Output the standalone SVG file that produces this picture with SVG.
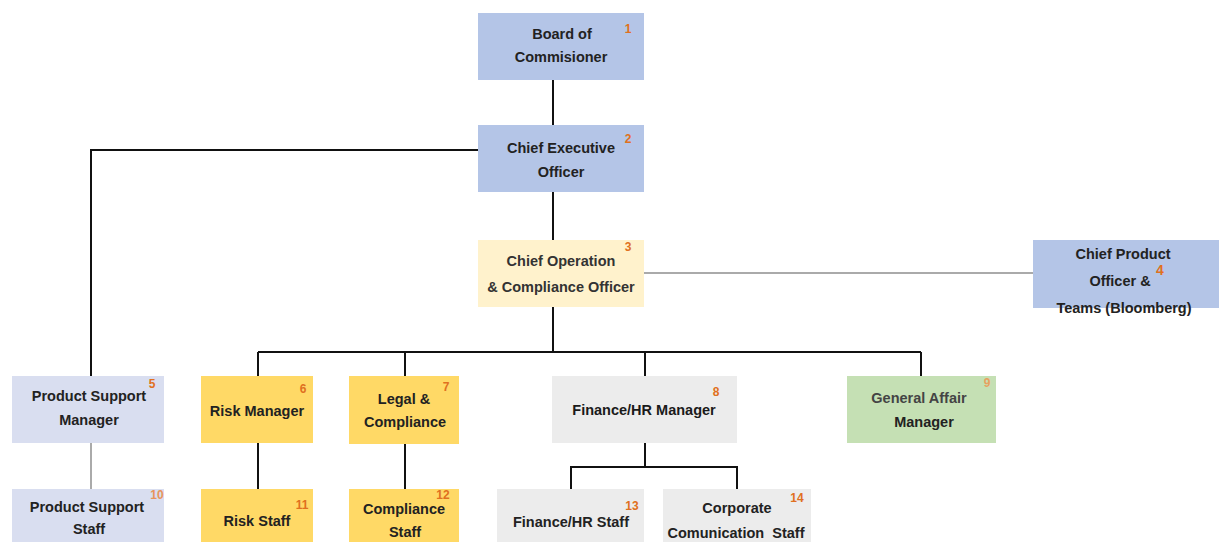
<svg xmlns="http://www.w3.org/2000/svg" width="1222" height="542" viewBox="0 0 1222 542">
<style>
.t{font-family:"Liberation Sans",Arial,sans-serif;font-size:14.5px;font-weight:bold;fill:#222;text-anchor:middle}
.n{font-family:"Liberation Sans",Arial,sans-serif;font-size:12px;font-weight:bold;fill:#e07020;text-anchor:middle}
.c{fill:none;stroke:#111;stroke-width:2}
.g{fill:none;stroke:#aaa;stroke-width:2}
</style>
<rect width="1222" height="542" fill="#fff"/>
<g id="connectors">
<path class="c" d="M553 80V125"/>
<path class="c" d="M553 192V240"/>
<path class="c" d="M478 150H91V376"/>
<path class="g" d="M644 273H1033"/>
<path class="c" d="M553 307V352M258 352H921M258 352V376M405 352V376M645 352V376M921 352V376"/>
<path class="g" d="M91 443V489"/>
<path class="c" d="M258 443V489M405 443V489"/>
<path class="c" d="M645 443V467M571 489V467H737V489"/>
</g>
<g id="n1"><rect x="478" y="13" width="166" height="67" fill="#b4c5e7"/><text class="t" x="562" y="39">Board of</text><text class="t" x="561" y="62">Commisioner</text><text class="n" x="628" y="33">1</text></g>
<g id="n2"><rect x="478" y="125" width="166" height="67" fill="#b4c5e7"/><text class="t" x="561" y="153">Chief Executive</text><text class="t" x="561" y="177">Officer</text><text class="n" x="628" y="143">2</text></g>
<g id="n3"><rect x="478" y="240" width="166" height="67" fill="#fff2cc"/><text class="t" x="561" y="266" style="fill:#333">Chief Operation</text><text class="t" x="561" y="292" style="fill:#333">&amp; Compliance Officer</text><text class="n" x="628" y="251">3</text></g>
<g id="n4"><rect x="1033" y="240" width="186" height="68" fill="#b4c5e7"/><text class="t" x="1123" y="259">Chief Product</text><text class="t" x="1120" y="286">Officer &amp;</text><text class="t" x="1124" y="313">Teams (Bloomberg)</text><text class="n" x="1160" y="275" style="font-size:14px">4</text></g>
<g id="n5"><rect x="12" y="376" width="152" height="67" fill="#d9def0"/><text class="t" x="89" y="401">Product Support</text><text class="t" x="89" y="425">Manager</text><text class="n" x="152" y="388">5</text></g>
<g id="n6"><rect x="201" y="376" width="112" height="67" fill="#ffd966"/><text class="t" x="257" y="416">Risk Manager</text><text class="n" x="303" y="393">6</text></g>
<g id="n7"><rect x="349" y="376" width="110" height="68" fill="#ffd966"/><text class="t" x="404" y="404">Legal &amp;</text><text class="t" x="405" y="427">Compliance</text><text class="n" x="446" y="391">7</text></g>
<g id="n8"><rect x="552" y="376" width="185" height="67" fill="#ececec"/><text class="t" x="644" y="415" style="fill:#1a1a1a">Finance/HR Manager</text><text class="n" x="716" y="396">8</text></g>
<g id="n9"><rect x="847" y="376" width="149" height="67" fill="#c5e0b4"/><text class="t" x="919" y="403" style="fill:#444">General Affair</text><text class="t" x="924" y="427">Manager</text><text class="n" x="987" y="387" style="fill:#e8a060">9</text></g>
<g id="n10"><rect x="12" y="489" width="152" height="60" fill="#d9def0"/><text class="t" x="87" y="512">Product Support</text><text class="t" x="89" y="534">Staff</text><text class="n" x="157" y="499" style="fill:#e8945a">10</text></g>
<g id="n11"><rect x="201" y="489" width="112" height="60" fill="#ffd966"/><text class="t" x="257" y="526">Risk Staff</text><text class="n" x="302" y="509">11</text></g>
<g id="n12"><rect x="349" y="489" width="110" height="60" fill="#ffd966"/><text class="t" x="404" y="514">Compliance</text><text class="t" x="405" y="537">Staff</text><text class="n" x="443" y="499">12</text></g>
<g id="n13"><rect x="497" y="489" width="147" height="60" fill="#ececec"/><text class="t" x="571" y="527">Finance/HR Staff</text><text class="n" x="632" y="510">13</text></g>
<g id="n14"><rect x="663" y="489" width="148" height="60" fill="#ececec"/><text class="t" x="737" y="513">Corporate</text><text class="t" x="736" y="538" xml:space="preserve">Comunication  Staff</text><text class="n" x="797" y="502">14</text></g>
</svg>
